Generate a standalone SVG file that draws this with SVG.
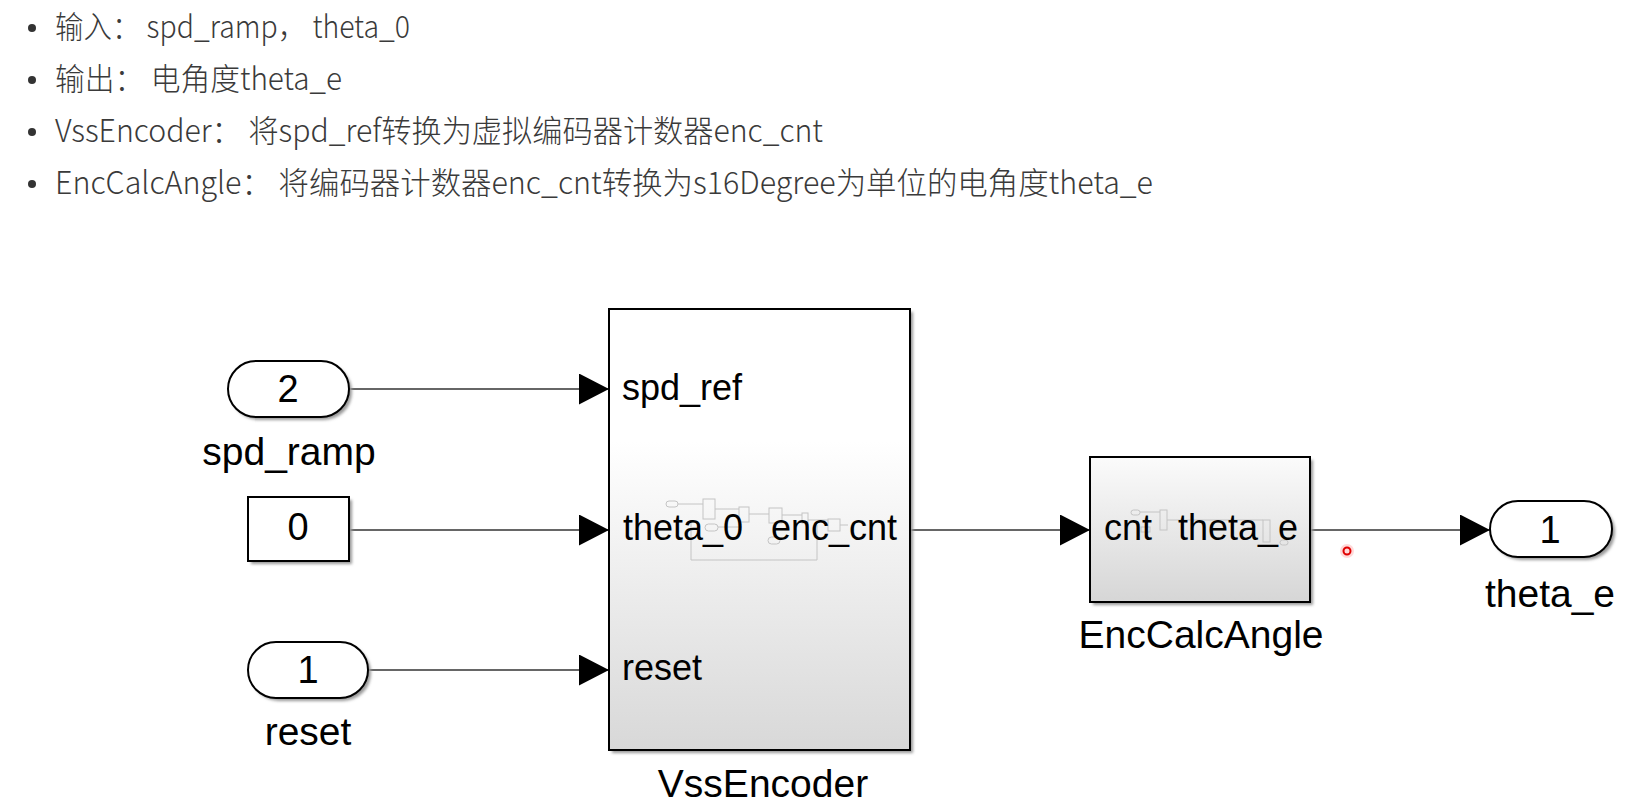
<svg xmlns="http://www.w3.org/2000/svg" width="1651" height="812" viewBox="0 0 1651 812">
<style>
.hdr{font-family:"Noto Sans CJK SC","Noto Sans",sans-serif;font-size:31px;font-weight:300;fill:#3a3a3a}
.lbl{font-family:"Liberation Sans",Arial,sans-serif;font-size:39px;fill:#000}
.num{font-family:"Liberation Sans",Arial,sans-serif;font-size:38px;fill:#000;text-anchor:middle}
.port{font-family:"Liberation Sans",Arial,sans-serif;font-size:36px;fill:#000}
.mid{text-anchor:middle}
.end{text-anchor:end}
.blk{stroke:#000;stroke-width:2}
.shadow{fill:#999;filter:url(#blur)}
.conn{stroke:#333;stroke-width:1.3;fill:none;marker-end:url(#arr)}
.thumb{fill:none;stroke:#c4c4c4;stroke-width:1}
</style>
<defs>
<marker id="arr" markerUnits="userSpaceOnUse" markerWidth="31" markerHeight="32" refX="30" refY="15.5" orient="auto" viewBox="0 0 31 32">
<path d="M0,0 L30,15.5 L0,31 Z" fill="#000"/>
</marker>
<filter id="blur" x="-10%" y="-10%" width="120%" height="120%"><feGaussianBlur stdDeviation="1.5"/></filter>
<linearGradient id="gVss" x1="0" y1="0" x2="0" y2="1">
<stop offset="0" stop-color="#ffffff"/>
<stop offset="0.3" stop-color="#ffffff"/>
<stop offset="1" stop-color="#d8d8d8"/>
</linearGradient>
<linearGradient id="gEnc" x1="0" y1="0" x2="0" y2="1">
<stop offset="0" stop-color="#fbfbfb"/>
<stop offset="1" stop-color="#d6d6d6"/>
</linearGradient>
</defs>
<rect width="1651" height="812" fill="#fff"/>

<g id="header">
<circle cx="32" cy="28" r="4" fill="#333"/>
<text class="hdr" x="55" y="38" textLength="355" lengthAdjust="spacingAndGlyphs">输入： spd_ramp， theta_0</text>
<circle cx="32" cy="80" r="4" fill="#333"/>
<text class="hdr" x="55" y="90" textLength="287" lengthAdjust="spacingAndGlyphs">输出： 电角度theta_e</text>
<circle cx="32" cy="132" r="4" fill="#333"/>
<text class="hdr" x="55" y="142" textLength="768" lengthAdjust="spacingAndGlyphs">VssEncoder： 将spd_ref转换为虚拟编码器计数器enc_cnt</text>
<circle cx="32" cy="184" r="4" fill="#333"/>
<text class="hdr" x="55" y="194" textLength="1098" lengthAdjust="spacingAndGlyphs">EncCalcAngle： 将编码器计数器enc_cnt转换为s16Degree为单位的电角度theta_e</text>
</g>

<g id="connectors">
<path class="conn" d="M349,389 H609"/>
<path class="conn" d="M349,530 H609"/>
<path class="conn" d="M368,670 H609"/>
<path class="conn" d="M910,530 H1090"/>
<path class="conn" d="M1310,530 H1490"/>
</g>

<g id="in_spd_ramp">
<rect class="shadow" x="231" y="364" width="121" height="56" rx="28"/>
<rect class="blk" x="228" y="361" width="121" height="56" rx="28" fill="#fff"/>
<text class="num" x="288" y="402">2</text>
<text class="lbl mid" x="289" y="465">spd_ramp</text>
</g>

<g id="const_theta0">
<rect class="shadow" x="251" y="500" width="101" height="64"/>
<rect class="blk" x="248" y="497" width="101" height="64" fill="#fff"/>
<text class="num" x="298" y="540">0</text>
</g>

<g id="in_reset">
<rect class="shadow" x="251" y="645" width="120" height="56" rx="28"/>
<rect class="blk" x="248" y="642" width="120" height="56" rx="28" fill="#fff"/>
<text class="num" x="308" y="683">1</text>
<text class="lbl mid" x="308" y="745">reset</text>
</g>

<g id="VssEncoder">
<rect class="shadow" x="612" y="312" width="301" height="441"/>
<rect class="blk" x="609" y="309" width="301" height="441" fill="url(#gVss)"/>
<g class="thumb">
<rect x="666" y="501" width="12" height="6" rx="3"/>
<path d="M678,504 H703"/>
<rect x="703" y="499" width="12" height="20"/>
<path d="M715,509 H739"/>
<rect x="739" y="507" width="10" height="15"/>
<path d="M749,514 H769"/>
<rect x="769" y="508" width="13" height="15"/>
<path d="M782,515 H802"/>
<rect x="802" y="513" width="6" height="10"/>
<path d="M808,520 H828"/>
<rect x="828" y="519" width="12" height="12"/>
<path d="M840,525 H848"/>
<rect x="705" y="524" width="13" height="7" rx="3.5"/>
<path d="M718,527 H739"/>
<rect x="768" y="537" width="12" height="7" rx="3.5"/>
<path d="M691,520 V560 H817 V525"/>
</g>
<text class="port" x="622" y="400">spd_ref</text>
<text class="port" x="623" y="540">theta_0</text>
<text class="port end" x="897" y="540">enc_cnt</text>
<text class="port" x="622" y="680">reset</text>
<text class="lbl mid" x="763" y="797">VssEncoder</text>
</g>

<g id="EncCalcAngle">
<rect class="shadow" x="1093" y="460" width="220" height="145"/>
<rect class="blk" x="1090" y="457" width="220" height="145" fill="url(#gEnc)"/>
<g class="thumb">
<rect x="1131" y="510" width="9" height="5" rx="2.5"/>
<path d="M1140,512 H1160"/>
<rect x="1160" y="510" width="7" height="20"/>
<rect x="1141" y="527" width="9" height="5"/>
<path d="M1167,520 H1263"/>
<rect x="1263" y="520" width="7" height="22"/>
<rect x="1280" y="540" width="8" height="5" rx="2.5"/>
</g>
<text class="port" x="1104" y="540">cnt</text>
<text class="port end" x="1298" y="540">theta_e</text>
<text class="lbl mid" x="1201" y="648">EncCalcAngle</text>
</g>

<g id="out_theta_e">
<rect class="shadow" x="1493" y="504" width="122" height="56" rx="28"/>
<rect class="blk" x="1490" y="501" width="122" height="56" rx="28" fill="#fff"/>
<text class="num" x="1550" y="543">1</text>
<text class="lbl mid" x="1550" y="607">theta_e</text>
</g>

<g id="cursor_dot">
<circle cx="1347" cy="551" r="7" fill="#ff0000" opacity="0.15"/>
<circle cx="1347" cy="551" r="3.5" fill="none" stroke="#e00000" stroke-width="2"/>
</g>
</svg>
